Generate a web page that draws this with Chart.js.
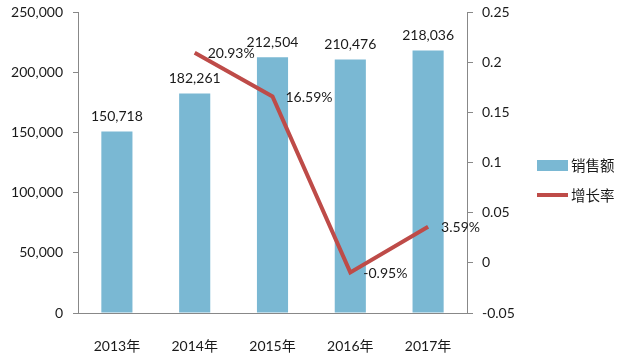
<!DOCTYPE html>
<html>
<head>
<meta charset="utf-8">
<script src="https://cdn.jsdelivr.net/npm/chart.js@4/dist/chart.umd.min.js"></script>
<style>
html,body{margin:0;padding:0;background:#fff;}
canvas{display:block;}
</style>
</head>
<body>
<canvas id="c" width="626" height="358"></canvas>
<script>
const categories = ['2013年', '2014年', '2015年', '2016年', '2017年'];
const sales = [150718, 182261, 212504, 210476, 218036];
const growth = [null, 0.2093, 0.1659, -0.0095, 0.0359];
const seriesNames = ['销售额', '增长率'];
const leftTicks = [0, 50000, 100000, 150000, 200000, 250000];
const rightTicks = [-0.05, 0, 0.05, 0.1, 0.15, 0.2, 0.25];

const FONT = "Lato, 'Noto Sans CJK SC', sans-serif";
const BAR_COLOR = '#7AB8D3';
const LINE_COLOR = '#BE4B48';
const AXIS_COLOR = '#888888';
const TEXT_COLOR = '#1a1a1a';

const labelPlugin = {
  id: 'valueLabels',
  afterDatasetsDraw(chart) {
    const ctx = chart.ctx;
    ctx.save();
    ctx.font = '14px ' + FONT;
    ctx.fillStyle = TEXT_COLOR;
    ctx.textBaseline = 'middle';
    const barMeta = chart.getDatasetMeta(1);
    barMeta.data.forEach((el, i) => {
      ctx.textAlign = 'center';
      ctx.fillText(sales[i].toLocaleString('en-US'), el.x, el.y - 15);
    });
    const lineMeta = chart.getDatasetMeta(0);
    lineMeta.data.forEach((el, i) => {
      if (growth[i] === null) return;
      ctx.textAlign = 'left';
      ctx.fillText((growth[i] * 100).toFixed(2) + '%', el.x + 13, el.y + 1);
    });
    ctx.restore();
  }
};

const legendPlugin = {
  id: 'customLegend',
  afterDraw(chart) {
    const ctx = chart.ctx;
    ctx.save();
    ctx.font = '14.5px ' + FONT;
    ctx.fillStyle = TEXT_COLOR;
    ctx.textBaseline = 'middle';
    ctx.textAlign = 'left';
    ctx.fillStyle = BAR_COLOR;
    ctx.fillRect(537, 160, 31, 11);
    ctx.fillStyle = TEXT_COLOR;
    ctx.fillText(chart.data.datasets[1].label, 571, 166);
    ctx.strokeStyle = LINE_COLOR;
    ctx.lineWidth = 4;
    ctx.beginPath();
    ctx.moveTo(537, 195);
    ctx.lineTo(568, 195);
    ctx.stroke();
    ctx.fillText(chart.data.datasets[0].label, 571, 196);
    ctx.restore();
  }
};

function fixV(width) {
  return function (s) { s.width = width; s.paddingTop = 0; s.paddingBottom = 0; };
}

new Chart(document.getElementById('c'), {
  data: {
    labels: categories,
    datasets: [
      {
        type: 'line',
        label: seriesNames[1],
        data: growth,
        yAxisID: 'y2',
        borderColor: LINE_COLOR,
        borderWidth: 4,
        pointRadius: 0,
        tension: 0,
        spanGaps: false,
        order: 1
      },
      {
        type: 'bar',
        label: seriesNames[0],
        data: sales,
        yAxisID: 'y',
        backgroundColor: BAR_COLOR,
        categoryPercentage: 1,
        barPercentage: 0.4,
        order: 2
      }
    ]
  },
  options: {
    responsive: false,
    animation: false,
    devicePixelRatio: 1,
    layout: { padding: { top: 12, left: 0, right: 0, bottom: 0 } },
    plugins: { legend: { display: false }, tooltip: { enabled: false } },
    scales: {
      x: {
        grid: { display: false },
        border: { display: true, color: AXIS_COLOR, width: 1 },
        ticks: { font: { size: 14, family: FONT }, color: TEXT_COLOR, padding: 17, maxRotation: 0 },
        afterFit(s) { s.height = 45; s.paddingLeft = 0; s.paddingRight = 0; }
      },
      y: {
        position: 'left',
        min: leftTicks[0],
        max: leftTicks[leftTicks.length - 1],
        afterBuildTicks(s) { s.ticks = leftTicks.map(v => ({ value: v })); },
        grid: { drawOnChartArea: false, drawTicks: true, tickLength: 5, color: AXIS_COLOR },
        border: { display: true, color: AXIS_COLOR, width: 1 },
        ticks: {
          font: { size: 14, family: FONT }, color: TEXT_COLOR, padding: 10,
          callback: v => v.toLocaleString('en-US')
        },
        afterFit: fixV(78)
      },
      y2: {
        position: 'right',
        min: rightTicks[0],
        max: rightTicks[rightTicks.length - 1],
        afterBuildTicks(s) { s.ticks = rightTicks.map(v => ({ value: v })); },
        grid: { drawOnChartArea: false, drawTicks: true, tickLength: 6, color: AXIS_COLOR },
        border: { display: true, color: AXIS_COLOR, width: 1 },
        ticks: {
          font: { size: 14, family: FONT }, color: TEXT_COLOR, padding: 9,
          callback: v => String(Number(v.toFixed(2)))
        },
        afterFit: fixV(626 - 467)
      }
    }
  },
  plugins: [labelPlugin, legendPlugin]
});
</script>
</body>
</html>
